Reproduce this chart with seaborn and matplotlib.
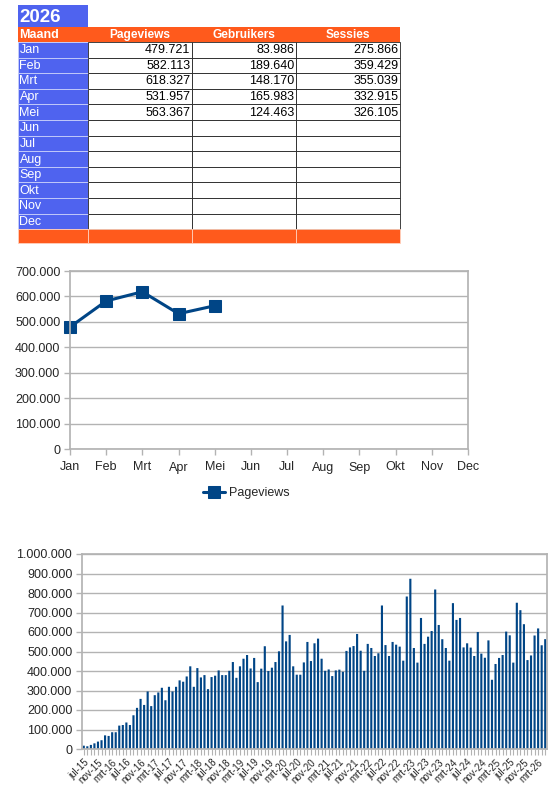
import matplotlib
matplotlib.use("Agg")
import matplotlib.pyplot as plt
from matplotlib.patches import Rectangle
from matplotlib.ticker import FuncFormatter, MultipleLocator
import seaborn as sns

# --- data -------------------------------------------------------------
year = "2026"
months = ["Jan", "Feb", "Mrt", "Apr", "Mei", "Jun", "Jul", "Aug", "Sep", "Okt", "Nov", "Dec"]
columns = ["Pageviews", "Gebruikers", "Sessies"]
pageviews = [479721, 582113, 618327, 531957, 563367]
gebruikers = [83986, 189640, 148170, 165983, 124463]
sessies = [275866, 359429, 355039, 332915, 326105]

# monthly pageviews jul-15 .. dec-25
history = [
    17000, 14000, 21000, 29000, 38000, 45000,
    70000, 67000, 86000, 86000, 120000, 123000, 136000, 123000, 173000, 211000, 257000, 226000,
    295000, 220000, 276000, 290000, 314000, 250000, 319000, 295000, 319000, 352000, 345000, 372000,
    424000, 319000, 415000, 367000, 379000, 307000, 369000, 376000, 403000, 379000, 379000, 401000,
    446000, 365000, 424000, 463000, 482000, 413000, 467000, 343000, 412000, 527000, 400000, 417000,
    446000, 501000, 736000, 552000, 585000, 424000, 381000, 381000, 444000, 549000, 451000, 542000,
    566000, 463000, 401000, 408000, 374000, 403000, 407000, 396000, 503000, 521000, 528000, 590000,
    504000, 401000, 539000, 518000, 477000, 491000, 736000, 533000, 477000, 549000, 535000, 525000,
    453000, 782000, 873000, 518000, 443000, 672000, 539000, 576000, 605000, 818000, 636000, 563000,
    518000, 453000, 748000, 662000, 672000, 521000, 542000, 520000, 477000, 600000, 489000, 468000,
    557000, 355000, 436000, 467000, 482000, 602000, 583000, 443000, 750000, 712000, 640000, 456000,
]
month_abbr = ["jan", "feb", "mrt", "apr", "mei", "jun", "jul", "aug", "sep", "okt", "nov", "dec"]
bar_labels = [f"{month_abbr[(6 + i) % 12]}-{15 + (6 + i) // 12}"
              for i in range(len(history) + len(pageviews))]
bar_values = history + pageviews

BLUE = "#4f63ef"
ORANGE = "#ff5a1c"
LINE = "#004586"
GRID = "#b3b3b3"


def nl(v):
    return f"{int(round(v)):,}".replace(",", ".")


sns.set_theme(style="white")
plt.rcParams["font.family"] = ["Liberation Sans", "DejaVu Sans"]

fig = plt.figure(figsize=(5.6, 8), dpi=100)

# --- table --------------------------------------------------------------
tab = fig.add_axes([0, 0, 1, 1])
tab.set_xlim(0, 560)
tab.set_ylim(800, 0)
tab.axis("off")

col_edges = [18, 88, 192, 296, 400]
row_top = 42
row_h = 15.6
foot_top = row_top + row_h * len(months)

tab.add_patch(Rectangle((18, 5), 70, 22, color=BLUE, lw=0))
tab.text(19.5, 17, year, color="white", fontsize=13.5, fontweight="bold", va="center")

tab.add_patch(Rectangle((18, 27), 382, 15, color=ORANGE, lw=0))
tab.text(19.5, 34.8, "Maand", color="white", fontsize=9, fontweight="bold", va="center")
for j, name in enumerate(columns):
    cx = (col_edges[j + 1] + col_edges[j + 2]) / 2
    tab.text(cx, 34.8, name, color="white", fontsize=8.6, fontweight="bold",
             va="center", ha="center")

data_cols = [pageviews, gebruikers, sessies]
for i, m in enumerate(months):
    y0 = row_top + i * row_h
    tab.add_patch(Rectangle((18, y0), 70, row_h, facecolor=BLUE, edgecolor="#c9d0fb", lw=0.6))
    tab.text(19.5, y0 + row_h / 2 + 0.5, m, color="white", fontsize=9, va="center")
    for j, vals in enumerate(data_cols):
        x0, x1 = col_edges[j + 1], col_edges[j + 2]
        tab.add_patch(Rectangle((x0, y0), x1 - x0, row_h, facecolor="white",
                                edgecolor="#222222", lw=0.6))
        if i < len(vals):
            tab.text(x1 - 1.5, y0 + row_h / 2 + 0.5, nl(vals[i]), fontsize=9,
                     va="center", ha="right", color="black")

for j in range(4):
    x0, x1 = col_edges[j], col_edges[j + 1]
    tab.add_patch(Rectangle((x0, foot_top), x1 - x0, 14, facecolor=ORANGE,
                            edgecolor="#ffd0bd", lw=0.6))

# --- line chart -----------------------------------------------------------
ax1 = fig.add_axes([70 / 560, 1 - 449 / 800, 398 / 560, 178 / 800])
sns.lineplot(x=list(range(len(pageviews))), y=pageviews, ax=ax1, color=LINE,
             lw=2.2, marker="s", markersize=8, markeredgecolor=LINE, label="Pageviews")
for ln in ax1.lines:
    ln.set_clip_on(False)
ax1.set_xlim(0, 11)
ax1.set_ylim(0, 700000)
ax1.set_xticks(range(12))
ax1.set_xticklabels(months)
ax1.yaxis.set_major_locator(MultipleLocator(100000))
ax1.yaxis.set_major_formatter(FuncFormatter(lambda v, p: nl(v)))
ax1.grid(axis="y", color=GRID, lw=1)
ax1.set_axisbelow(True)
for s in ax1.spines.values():
    s.set_color(GRID)
ax1.tick_params(axis="both", length=4, width=1, color=GRID, labelsize=9,
                bottom=True, left=True)
ax1.tick_params(axis="x", pad=5)
ax1.tick_params(axis="y", pad=3)
ax1.legend(loc="center", bbox_to_anchor=(246 / 560, 1 - 493 / 800),
           bbox_transform=fig.transFigure, frameon=False, fontsize=9,
           handlelength=1.8, handletextpad=0.3)

# --- bar chart ------------------------------------------------------------
ax2 = fig.add_axes([82 / 560, 1 - 749 / 800, 465 / 560, 195 / 800])
sns.barplot(x=bar_labels, y=bar_values, ax=ax2, color=LINE, saturation=1, width=0.6,
            linewidth=0)
for p in ax2.patches:
    p.set_snap(False)
ax2.set_xlim(-0.5, len(bar_values) - 0.5)
ax2.set_ylim(0, 1000000)
ax2.yaxis.set_major_locator(MultipleLocator(100000))
ax2.yaxis.set_major_formatter(FuncFormatter(lambda v, p: nl(v)))
ax2.set_xticks(range(0, len(bar_values), 4))
ax2.set_xticklabels(bar_labels[::4], rotation=45, ha="right", rotation_mode="anchor",
                    fontsize=7)
ax2.set_xticks(range(len(bar_values)), minor=True)
ax2.grid(axis="y", color=GRID, lw=1)
ax2.set_axisbelow(True)
for s in ax2.spines.values():
    s.set_color(GRID)
ax2.tick_params(axis="y", length=4, width=1, color=GRID, labelsize=9, left=True, pad=3)
ax2.tick_params(axis="x", which="both", length=4, width=0.8, color=GRID, bottom=True, pad=2)
ax2.set_xlabel("")
ax2.set_ylabel("")

fig.savefig("out.png", dpi=100)
